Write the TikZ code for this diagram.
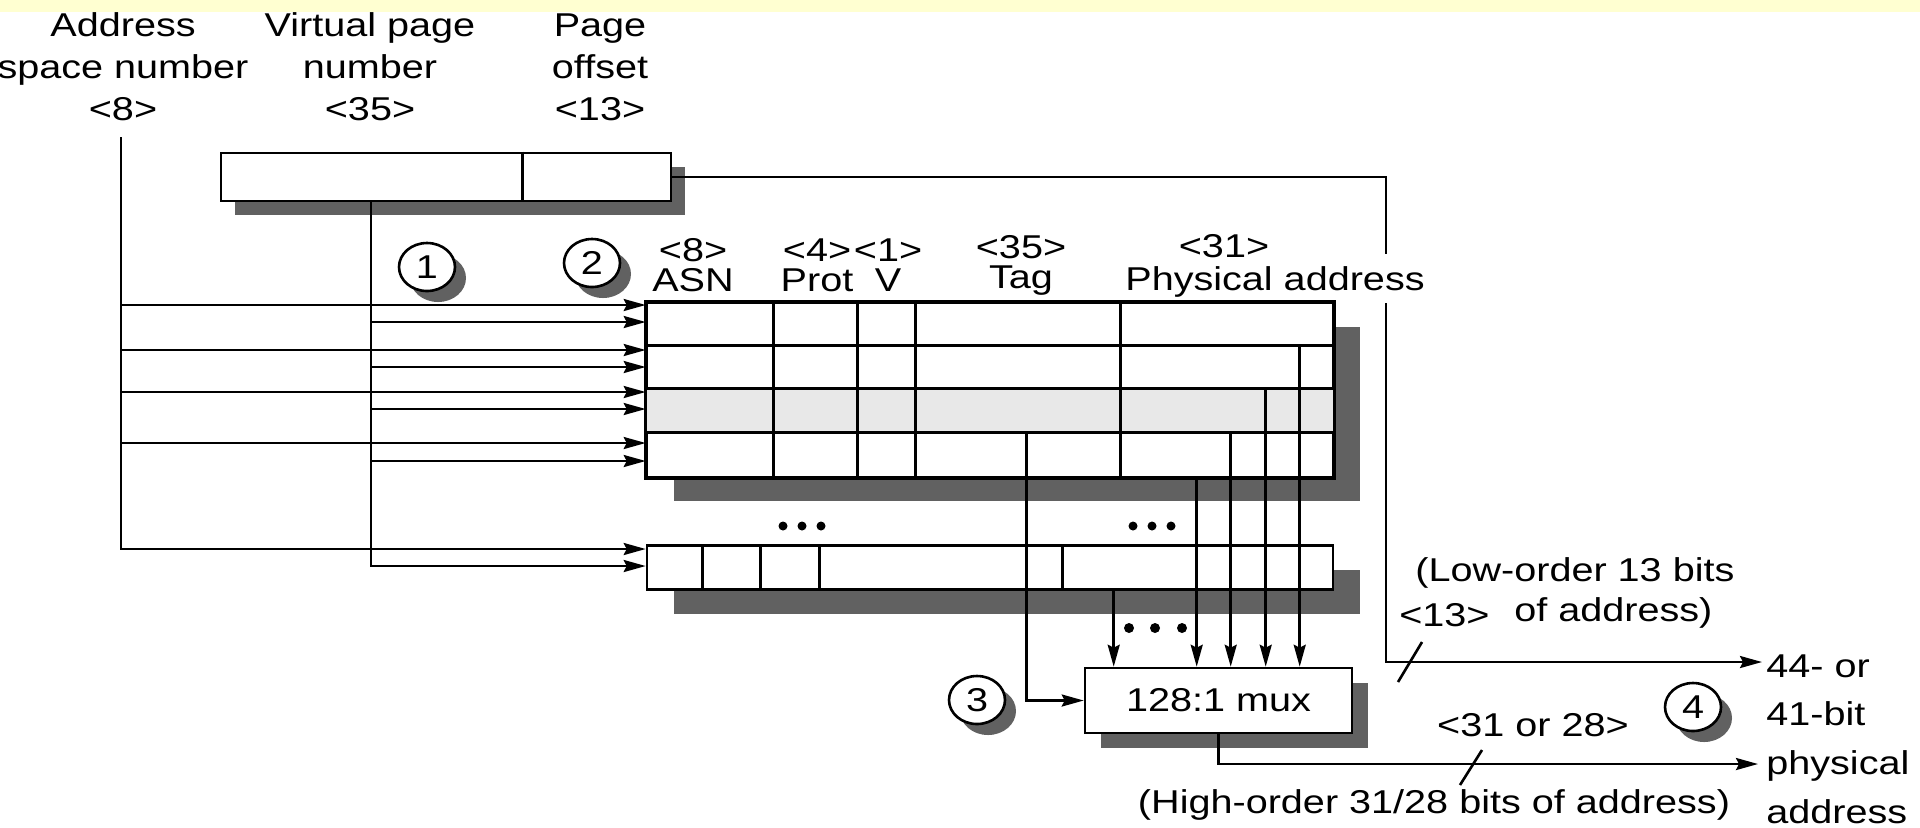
\documentclass[tikz,border=0pt]{standalone}
\usepackage{fontspec}
\setmainfont{Liberation Sans}[FakeStretch=1.2]
\usepackage{tikz}
\usetikzlibrary{positioning,shapes,arrows.meta,shadows,calc}
\definecolor{shadowgray}{rgb}{0.38,0.38,0.38}
\definecolor{rowgray}{rgb}{0.91,0.91,0.91}
\definecolor{paleyellow}{rgb}{1,1,0.82}
\newcommand{\lblfont}{\fontsize{16.5}{21}\selectfont}
\newcommand{\hdfont}{\fontsize{16.5}{15}\selectfont}
\newcommand{\outfont}{\fontsize{16.5}{24.3}\selectfont}
\tikzstyle{lbl}=[%
      inner sep=0pt, align=center, font=\lblfont
]
\tikzstyle{hd}=[%
      inner sep=0pt, align=center, font=\hdfont
]
\tikzstyle{reg}=[%
      rectangle, draw=black, fill=white, inner sep=0pt,
      drop shadow={shadow xshift=7pt, shadow yshift=-7pt, fill=shadowgray, opacity=1}
]
\tikzstyle{tlbbox}=[%
      rectangle, draw=black, fill=white, inner sep=0pt,
      drop shadow={shadow xshift=13.5pt, shadow yshift=-12pt, fill=shadowgray, opacity=1}
]
\tikzstyle{muxbox}=[%
      rectangle, draw=black, fill=white, inner sep=0pt, font=\lblfont,
      drop shadow={shadow xshift=8pt, shadow yshift=-7.5pt, fill=shadowgray, opacity=1}
]
\tikzstyle{stepno}=[%
      ellipse, draw=black, fill=white, inner sep=0pt, font=\lblfont,
      minimum width=28pt, minimum height=24pt,
      drop shadow={shadow xshift=5.5pt, shadow yshift=-5.5pt, fill=shadowgray, opacity=1}
]

\begin{document}
\begin{tikzpicture}[x=0.5pt, y=-0.5pt, line width=1.3pt,
    >={Stealth[length=11pt,width=6pt,inset=1.5pt]}
  ]
    \useasboundingbox (0,0) rectangle (1920,827);
    \fill[paleyellow] (0,0) rectangle (1920,12);

    % virtual address fields
    \node[lbl] (asnname) at (123,67) {Address\\space number\\<8>};
    \node[lbl] (vpnname) at (370,67) {Virtual page\\number\\<35>};
    \node[lbl] (offname) at (600,67) {Page\\offset\\<13>};

    \node[reg, minimum width=225pt, minimum height=24pt] (vaddr) at (446,177) {};
    \draw ($(vaddr.north west)+(303,0)$) -- ($(vaddr.south west)+(303,0)$);

    % TLB entries
    \node[tlbbox, minimum width=343pt, minimum height=87pt] (tlb) at (990,390) {};
    \fill[rowgray] ($(tlb.north west)+(0,87)$) rectangle ($(tlb.north east)+(0,130.5)$);
    \draw ($(tlb.north west)+(0,43.5)$) -- ($(tlb.north east)+(0,43.5)$);
    \draw ($(tlb.north west)+(0,87)$) -- ($(tlb.north east)+(0,87)$);
    \draw ($(tlb.north west)+(0,130.5)$) -- ($(tlb.north east)+(0,130.5)$);
    \draw ($(tlb.north west)+(128,0)$) -- ($(tlb.south west)+(128,0)$);
    \draw ($(tlb.north west)+(212,0)$) -- ($(tlb.south west)+(212,0)$);
    \draw ($(tlb.north west)+(270,0)$) -- ($(tlb.south west)+(270,0)$);
    \draw ($(tlb.north west)+(475,0)$) -- ($(tlb.south west)+(475,0)$);
    \draw (tlb.north west) rectangle (tlb.south east);

    \node[tlbbox, minimum width=343pt, minimum height=22pt, below=33pt of tlb] (entry) {};
    \draw ($(entry.north west)+(57,0)$) -- ($(entry.south west)+(57,0)$);
    \draw ($(entry.north west)+(115,0)$) -- ($(entry.south west)+(115,0)$);
    \draw ($(entry.north west)+(174,0)$) -- ($(entry.south west)+(174,0)$);
    \draw ($(entry.north west)+(417,0)$) -- ($(entry.south west)+(417,0)$);

    \fill (783,526) circle (4.5) (802,526) circle (4.5) (821,526) circle (4.5);
    \fill (1133,526) circle (4.5) (1152,526) circle (4.5) (1171,526) circle (4.5);

    \node[hd] (asnhd) at (693,265) {<8>\\ASN};
    \node[hd] (prothd) at (817,265) {<4>\\Prot};
    \node[hd] (vhd) at (888,265) {<1>\\V};
    \node[hd] (taghd) at (1021,265) {<35>\\Tag};
    \node[hd] (pahd) at (1224,246) {<31>};
    \node[hd] (paname) at (1275,282) {Physical address};

    \node[muxbox, minimum width=133.5pt, minimum height=32.5pt] (mux) at (1218.5,700.5) {128:1 mux};
    \fill (1129,628) circle (5) (1155,628) circle (5) (1182,628) circle (5);

    \node[lbl, anchor=west, align=left, font=\outfont] (physaddr) at (1765,739) {44- or\\41-bit\\physical\\address};

    % address and page number into the TLB
    \coordinate (asntop) at (121,137);
    \coordinate (a1) at (121,305);
    \coordinate (a2) at (121,350);
    \coordinate (a3) at (121,392);
    \coordinate (a4) at (121,443);
    \coordinate (a5) at (121,549);
    \coordinate (v1) at (371,322);
    \coordinate (v2) at (371,367);
    \coordinate (v3) at (371,409);
    \coordinate (v4) at (371,461);
    \coordinate (v5) at (371,566);
    \draw[->] (asntop) |- (a5 -| entry.west);
    \draw[->] (vaddr.south -| v1) |- (v5 -| entry.west);
    \draw[->] (a1) -- (a1 -| tlb.west);
    \draw[->] (a2) -- (a2 -| tlb.west);
    \draw[->] (a3) -- (a3 -| tlb.west);
    \draw[->] (a4) -- (a4 -| tlb.west);
    \draw[->] (v1) -- (v1 -| tlb.west);
    \draw[->] (v2) -- (v2 -| tlb.west);
    \draw[->] (v3) -- (v3 -| tlb.west);
    \draw[->] (v4) -- (v4 -| tlb.west);

    % physical address fields into the mux
    \coordinate (pa0) at ($(entry.south west)+(468,0)$);
    \coordinate (pa1) at ($(tlb.south west)+(551,0)$);
    \coordinate (pa2) at ($(tlb.north west)+(654,43.5)$);
    \coordinate (pa3) at ($(tlb.north west)+(620,87)$);
    \coordinate (pa4) at ($(tlb.north west)+(585,130.5)$);
    \coordinate (tagtop) at ($(tlb.north west)+(381,130.5)$);
    \draw[->] (pa0) -- (pa0 |- mux.north);
    \draw[->] (pa1) -- (pa1 |- mux.north);
    \draw[->] (pa2) -- (pa2 |- mux.north);
    \draw[->] (pa3) -- (pa3 |- mux.north);
    \draw[->] (pa4) -- (pa4 |- mux.north);
    \draw[->] (tagtop) |- (mux.west);

    % page offset and mux output
    \coordinate (gapa) at (1386,254);
    \coordinate (gapb) at (1386,303);
    \coordinate (lo) at (1386,662);
    \coordinate (hi) at (1218.5,764);
    \draw (vaddr.east) -| (gapa);
    \draw[->, shorten >=1.5pt] (gapb) -- (lo) -- (lo -| physaddr.west);
    \draw[->, shorten >=3.5pt] (mux.south) -- (hi) -- (hi -| physaddr.west);
    \draw (1398,682) -- (1422,642);
    \draw (1460,785) -- (1482,750);

    \node[lbl, anchor=west] (lowtxt) at (1414,573) {(Low-order 13 bits};
    \node[lbl, anchor=west] (lowtxt2) at (1513,613) {of address)};
    \node[lbl, anchor=west] (lowbits) at (1398,615) {<13>};
    \node[lbl] (hibits) at (1533,725) {<31 or 28>};
    \node[lbl] (hitxt) at (1434,805) {(High-order 31/28 bits of address)};

    % steps
    \node[stepno] (s1) at (427,267) {1};
    \node[stepno] (s2) at (592,263) {2};
    \node[stepno] (s3) at (977,700) {3};
    \node[stepno] (s4) at (1693,707) {4};

  \end{tikzpicture}
\end{document}
